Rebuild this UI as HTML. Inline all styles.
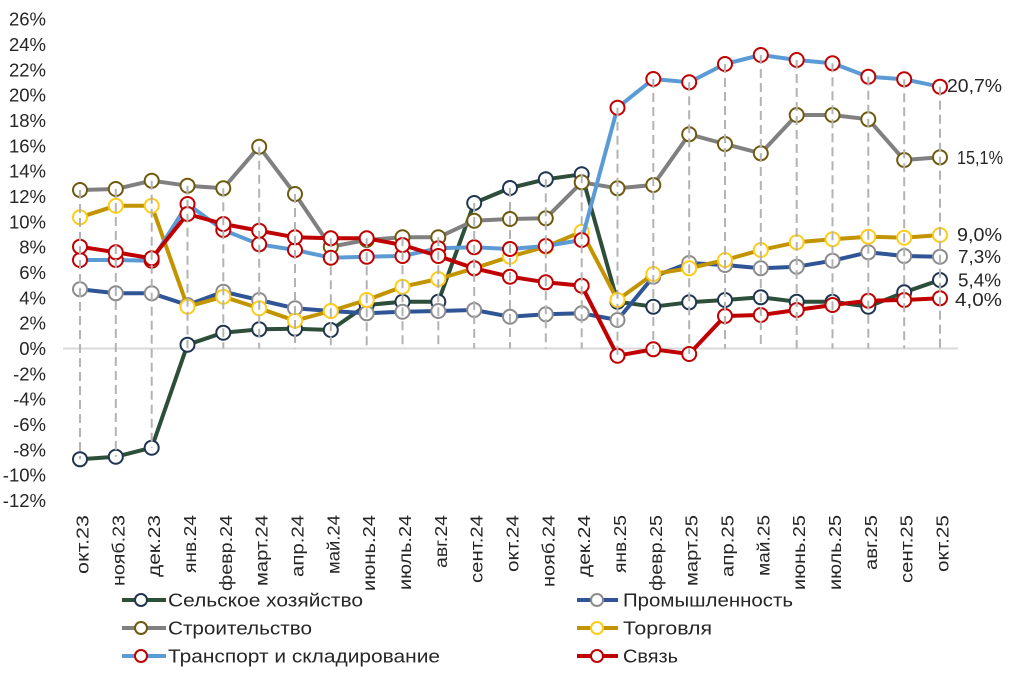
<!DOCTYPE html>
<html><head><meta charset="utf-8"><style>
html,body{margin:0;padding:0;background:#fff;}
svg{display:block;font-family:"Liberation Sans","DejaVu Sans",sans-serif;}
</style></head><body>
<svg width="1009" height="682" viewBox="0 0 1009 682" xmlns="http://www.w3.org/2000/svg">
<defs>
<marker id="mg" viewBox="-10 -10 20 20" refX="0" refY="0" markerWidth="20" markerHeight="20" markerUnits="userSpaceOnUse" orient="0"><circle r="7" fill="#fff" stroke="#1f3550" stroke-width="2"/></marker>
<marker id="mb" viewBox="-10 -10 20 20" refX="0" refY="0" markerWidth="20" markerHeight="20" markerUnits="userSpaceOnUse" orient="0"><circle r="7" fill="#fff" stroke="#8c8c8c" stroke-width="2"/></marker>
<marker id="mgr" viewBox="-10 -10 20 20" refX="0" refY="0" markerWidth="20" markerHeight="20" markerUnits="userSpaceOnUse" orient="0"><circle r="7" fill="#fff" stroke="#6e5a0e" stroke-width="2"/></marker>
<marker id="my" viewBox="-10 -10 20 20" refX="0" refY="0" markerWidth="20" markerHeight="20" markerUnits="userSpaceOnUse" orient="0"><circle r="7" fill="#fff" stroke="#ffcc1a" stroke-width="2"/></marker>
<marker id="mr" viewBox="-10 -10 20 20" refX="0" refY="0" markerWidth="20" markerHeight="20" markerUnits="userSpaceOnUse" orient="0"><circle r="7" fill="#fff" stroke="#c00000" stroke-width="2"/></marker>
</defs>

<!-- zero line -->
<line x1="63" y1="348.5" x2="958" y2="348.5" stroke="#d9d9d9" stroke-width="2"/>

<!-- series -->
<g fill="none" stroke-width="4" stroke-linejoin="round">
<polyline stroke="#2d4f3a" marker-start="url(#mg)" marker-mid="url(#mg)" marker-end="url(#mg)" points="80,459.3 115.8,456.7 151.7,447.7 187.5,344.7 223.3,332.7 259.2,329.3 295,328.7 330.8,330 366.7,305 402.5,301.7 438.3,301.7 474.2,203 510,188 545.8,179.3 581.7,174.3 617.5,301.7 653.3,306.7 689.2,302.3 725,300 760.8,297.3 796.7,301.7 832.5,301.7 868.3,306.7 904.2,292.3 940,280"/>
<polyline stroke="#2f5597" marker-start="url(#mb)" marker-mid="url(#mb)" marker-end="url(#mb)" points="80,289.3 115.8,293.3 151.7,293.3 187.5,305 223.3,291.7 259.2,300 295,308.3 330.8,311 366.7,313.3 402.5,311.7 438.3,311 474.2,310 510,316.7 545.8,314.3 581.7,313.3 617.5,320 653.3,276.7 689.2,263 725,265 760.8,268.3 796.7,266.7 832.5,260.7 868.3,252.3 904.2,256 940,256.7"/>
<polyline stroke="#808080" marker-start="url(#mgr)" marker-mid="url(#mgr)" marker-end="url(#mgr)" points="80,190 115.8,189 151.7,180.7 187.5,185.7 223.3,188.3 259.2,146.7 295,194 330.8,246.7 366.7,240 402.5,237.3 438.3,237.3 474.2,220.7 510,219 545.8,218.3 581.7,182.3 617.5,188.3 653.3,185 689.2,134.3 725,144 760.8,153.3 796.7,115 832.5,115 868.3,119.3 904.2,160 940,157.3"/>
<polyline stroke="#c29400" marker-start="url(#my)" marker-mid="url(#my)" marker-end="url(#my)" points="80,217.3 115.8,205.7 151.7,205.7 187.5,306.7 223.3,296.7 259.2,308.3 295,320.7 330.8,311 366.7,300 402.5,286.7 438.3,279 474.2,268.3 510,256.7 545.8,246.7 581.7,231.7 617.5,300 653.3,274 689.2,268.3 725,260 760.8,250 796.7,242.3 832.5,239.3 868.3,236.7 904.2,237.7 940,235"/>
<polyline stroke="#5b9bd5" marker-start="url(#mr)" marker-mid="url(#mr)" marker-end="url(#mr)" points="80,260 115.8,260 151.7,260.7 187.5,204 223.3,230 259.2,244.3 295,250 330.8,257.7 366.7,256.7 402.5,256 438.3,248.3 474.2,247.3 510,249 545.8,246 581.7,240 617.5,107.7 653.3,79 689.2,82.3 725,64 760.8,55 796.7,60 832.5,63.3 868.3,76.7 904.2,79.3 940,86.7"/>
<polyline stroke="#c00000" marker-start="url(#mr)" marker-mid="url(#mr)" marker-end="url(#mr)" points="80,246.7 115.8,252.3 151.7,258.3 187.5,214 223.3,224 259.2,230.7 295,237.3 330.8,238.3 366.7,238.3 402.5,245 438.3,256 474.2,268.3 510,276.7 545.8,282.3 581.7,285.7 617.5,355.7 653.3,349.3 689.2,354 725,316 760.8,315 796.7,310 832.5,305 868.3,300.7 904.2,300 940,298.3"/>
</g>

<!-- drop lines -->
<path fill="none" stroke="#b3b3b3" stroke-width="2" stroke-dasharray="9 5" d="M80,190V459.3 M115.8,189V456.7 M151.7,180.7V447.7 M187.5,185.7V348.5 M223.3,188.3V348.5 M259.2,146.7V348.5 M295,194V348.5 M330.8,238.3V348.5 M366.7,238.3V348.5 M402.5,237.3V348.5 M438.3,237.3V348.5 M474.2,203V348.5 M510,188V348.5 M545.8,179.3V348.5 M581.7,174.3V348.5 M617.5,107.7V355.7 M653.3,79V349.3 M689.2,82.3V354 M725,64V348.5 M760.8,55V348.5 M796.7,60V348.5 M832.5,63.3V348.5 M868.3,76.7V348.5 M904.2,79.3V348.5 M940,86.7V348.5"/>

<!-- y axis labels -->
<g font-size="18.5" fill="#262626" text-anchor="end">
<text x="46" y="25.6">26%</text>
<text x="46" y="50.9">24%</text>
<text x="46" y="76.3">22%</text>
<text x="46" y="101.6">20%</text>
<text x="46" y="126.9">18%</text>
<text x="46" y="152.3">16%</text>
<text x="46" y="177.6">14%</text>
<text x="46" y="203">12%</text>
<text x="46" y="228.3">10%</text>
<text x="46" y="253.6">8%</text>
<text x="46" y="279">6%</text>
<text x="46" y="304.3">4%</text>
<text x="46" y="329.7">2%</text>
<text x="46" y="355">0%</text>
<text x="46" y="380.3">-2%</text>
<text x="46" y="405.7">-4%</text>
<text x="46" y="431">-6%</text>
<text x="46" y="456.4">-8%</text>
<text x="46" y="481.7">-10%</text>
<text x="46" y="507">-12%</text>
</g>

<!-- x axis labels -->
<g font-size="17.5" fill="#262626" text-anchor="end" lengthAdjust="spacingAndGlyphs">
<text transform="translate(88.5,515) rotate(-90)" textLength="59" lengthAdjust="spacingAndGlyphs">окт.23</text>
<text transform="translate(124.3,515) rotate(-90)" textLength="71" lengthAdjust="spacingAndGlyphs">нояб.23</text>
<text transform="translate(160.2,515) rotate(-90)" textLength="62" lengthAdjust="spacingAndGlyphs">дек.23</text>
<text transform="translate(196,515) rotate(-90)" textLength="58" lengthAdjust="spacingAndGlyphs">янв.24</text>
<text transform="translate(231.8,515) rotate(-90)" textLength="76" lengthAdjust="spacingAndGlyphs">февр.24</text>
<text transform="translate(267.7,515) rotate(-90)" textLength="71" lengthAdjust="spacingAndGlyphs">март.24</text>
<text transform="translate(303.5,515) rotate(-90)" textLength="62" lengthAdjust="spacingAndGlyphs">апр.24</text>
<text transform="translate(339.3,515) rotate(-90)" textLength="59" lengthAdjust="spacingAndGlyphs">май.24</text>
<text transform="translate(375.2,515) rotate(-90)" textLength="76" lengthAdjust="spacingAndGlyphs">июнь.24</text>
<text transform="translate(411,515) rotate(-90)" textLength="75" lengthAdjust="spacingAndGlyphs">июль.24</text>
<text transform="translate(446.8,515) rotate(-90)" textLength="53" lengthAdjust="spacingAndGlyphs">авг.24</text>
<text transform="translate(482.7,515) rotate(-90)" textLength="68" lengthAdjust="spacingAndGlyphs">сент.24</text>
<text transform="translate(518.5,515) rotate(-90)" textLength="57" lengthAdjust="spacingAndGlyphs">окт.24</text>
<text transform="translate(554.3,515) rotate(-90)" textLength="72" lengthAdjust="spacingAndGlyphs">нояб.24</text>
<text transform="translate(590.2,515) rotate(-90)" textLength="62" lengthAdjust="spacingAndGlyphs">дек.24</text>
<text transform="translate(626,515) rotate(-90)" textLength="58" lengthAdjust="spacingAndGlyphs">янв.25</text>
<text transform="translate(661.8,515) rotate(-90)" textLength="76" lengthAdjust="spacingAndGlyphs">февр.25</text>
<text transform="translate(697.7,515) rotate(-90)" textLength="71" lengthAdjust="spacingAndGlyphs">март.25</text>
<text transform="translate(733.5,515) rotate(-90)" textLength="62" lengthAdjust="spacingAndGlyphs">апр.25</text>
<text transform="translate(769.3,515) rotate(-90)" textLength="61" lengthAdjust="spacingAndGlyphs">май.25</text>
<text transform="translate(805.2,515) rotate(-90)" textLength="75" lengthAdjust="spacingAndGlyphs">июнь.25</text>
<text transform="translate(841,515) rotate(-90)" textLength="75" lengthAdjust="spacingAndGlyphs">июль.25</text>
<text transform="translate(876.8,515) rotate(-90)" textLength="55" lengthAdjust="spacingAndGlyphs">авг.25</text>
<text transform="translate(912.7,515) rotate(-90)" textLength="68" lengthAdjust="spacingAndGlyphs">сент.25</text>
<text transform="translate(948.5,515) rotate(-90)" textLength="57" lengthAdjust="spacingAndGlyphs">окт.25</text>
</g>

<!-- end value labels -->
<g font-size="18.5" fill="#262626">
<text x="947" y="92.2" textLength="55" lengthAdjust="spacingAndGlyphs">20,7%</text>
<text x="957" y="163.8" textLength="46" lengthAdjust="spacingAndGlyphs">15,1%</text>
<text x="957" y="240.8" textLength="45" lengthAdjust="spacingAndGlyphs">9,0%</text>
<text x="958" y="263.2" textLength="43" lengthAdjust="spacingAndGlyphs">7,3%</text>
<text x="958" y="286.5" textLength="43" lengthAdjust="spacingAndGlyphs">5,4%</text>
<text x="955" y="305.8" textLength="47" lengthAdjust="spacingAndGlyphs">4,0%</text>
</g>

<!-- legend -->
<g stroke-width="4">
<line x1="122" y1="600" x2="166" y2="600" stroke="#2d4f3a"/>
<circle cx="141" cy="600" r="6" fill="#fff" stroke="#1f3550" stroke-width="2"/>
<line x1="122" y1="628" x2="166" y2="628" stroke="#808080"/>
<circle cx="141" cy="628" r="6" fill="#fff" stroke="#6e5a0e" stroke-width="2"/>
<line x1="122" y1="656" x2="166" y2="656" stroke="#5b9bd5"/>
<circle cx="141" cy="656" r="6" fill="#fff" stroke="#c00000" stroke-width="2"/>
<line x1="577" y1="600" x2="618" y2="600" stroke="#2f5597"/>
<circle cx="597" cy="600" r="6" fill="#fff" stroke="#8c8c8c" stroke-width="2"/>
<line x1="577" y1="628" x2="618" y2="628" stroke="#c29400"/>
<circle cx="597" cy="628" r="6" fill="#fff" stroke="#ffcc1a" stroke-width="2"/>
<line x1="577" y1="656" x2="618" y2="656" stroke="#c00000"/>
<circle cx="597" cy="656" r="6" fill="#fff" stroke="#c00000" stroke-width="2"/>
</g>
<g font-size="18.5" fill="#262626">
<text x="168" y="606.5" textLength="195" lengthAdjust="spacingAndGlyphs">Сельское хозяйство</text>
<text x="168" y="634.5" textLength="144" lengthAdjust="spacingAndGlyphs">Строительство</text>
<text x="168" y="662.5" textLength="272" lengthAdjust="spacingAndGlyphs">Транспорт и складирование</text>
<text x="623" y="606.5" textLength="170" lengthAdjust="spacingAndGlyphs">Промышленность</text>
<text x="623" y="634.5" textLength="89" lengthAdjust="spacingAndGlyphs">Торговля</text>
<text x="623" y="662.5" textLength="55" lengthAdjust="spacingAndGlyphs">Связь</text>
</g>
</svg>
</body></html>
